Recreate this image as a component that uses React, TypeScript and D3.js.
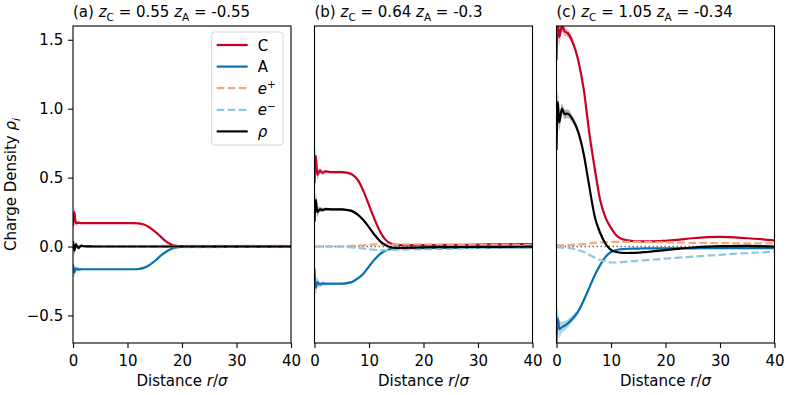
import * as d3 from 'd3';
import React, { useEffect, useRef } from 'react';

// distance grid (r / sigma) shared by every curve
const R = [0, 0.25, 0.5, 1, 1.5, 2, 3, 4, 5, 6, 7, 8, 9, 10, 11, 12, 13, 14, 15, 16, 17, 18, 19, 20, 22, 25, 30, 35, 40];

// panel (a) zC = 0.55, zA = -0.55
const aC = [0.15, 0.25, 0.17, 0.172, 0.17, 0.17, 0.17, 0.17, 0.17, 0.17, 0.17, 0.17, 0.17, 0.17, 0.17, 0.168, 0.16, 0.14, 0.11, 0.075, 0.04, 0.015, 0.005, 0.003, 0.002, 0.002, 0.002, 0.002, 0.002];
const aA = [-0.13, -0.19, -0.16, -0.166, -0.165, -0.165, -0.165, -0.165, -0.165, -0.165, -0.165, -0.165, -0.165, -0.165, -0.165, -0.163, -0.155, -0.135, -0.105, -0.07, -0.04, -0.018, -0.007, -0.003, -0.002, -0.002, -0.002, -0.002, -0.002];
const aEp = [0, 0, 0, 0, 0, 0, 0, 0, 0, 0, 0, 0, 0, 0, 0, 0.001, 0.001, 0.002, 0.003, 0.004, 0.004, 0.005, 0.005, 0.005, 0.005, 0.005, 0.005, 0.005, 0.005];
const aEm = [0, 0, 0, 0, 0, 0, 0, 0, 0, 0, 0, 0, 0, 0, 0, -0.001, -0.001, -0.002, -0.002, -0.003, -0.003, -0.004, -0.004, -0.004, -0.004, -0.004, -0.003, -0.003, -0.003];
const aRho = [0.04, -0.03, 0.015, -0.01, 0.006, 0.002, 0.001, 0, 0, 0, 0, 0, 0, 0, 0, 0, 0, 0, 0, 0, 0, 0, 0, 0, 0, 0, 0, 0, 0];
const aNoise = [0.04, 0.03, 0.02, 0.012, 0.008, 0.006, 0.005, 0.004, 0.004, 0.003, 0.003, 0.003, 0.003, 0.003, 0.003, 0.003, 0.003, 0.003, 0.002, 0.002, 0.002, 0.002, 0.002, 0.002, 0.002, 0.002, 0.002, 0.002, 0.002];

// panel (b) zC = 0.64, zA = -0.3
const bC = [0.46, 0.66, 0.52, 0.55, 0.535, 0.545, 0.54, 0.54, 0.54, 0.535, 0.52, 0.48, 0.4, 0.3, 0.2, 0.11, 0.05, 0.022, 0.013, 0.01, 0.01, 0.01, 0.01, 0.01, 0.011, 0.012, 0.014, 0.016, 0.018];
const bA = [-0.16, -0.3, -0.26, -0.275, -0.268, -0.27, -0.27, -0.27, -0.27, -0.265, -0.255, -0.23, -0.195, -0.145, -0.095, -0.055, -0.03, -0.018, -0.013, -0.012, -0.012, -0.011, -0.011, -0.011, -0.01, -0.01, -0.008, -0.007, -0.006];
const bEp = [0, 0, 0, 0, 0, 0, 0, 0, 0, 0.002, 0.004, 0.007, 0.01, 0.013, 0.015, 0.016, 0.016, 0.016, 0.016, 0.016, 0.016, 0.015, 0.015, 0.015, 0.015, 0.014, 0.013, 0.012, 0.012];
const bEm = [0, 0, 0, 0, 0, 0, 0, 0, 0, -0.003, -0.006, -0.01, -0.015, -0.02, -0.024, -0.026, -0.026, -0.025, -0.024, -0.023, -0.022, -0.021, -0.021, -0.02, -0.018, -0.016, -0.012, -0.009, -0.006];
const bRho = [0.18, 0.34, 0.25, 0.27, 0.265, 0.272, 0.27, 0.27, 0.27, 0.265, 0.255, 0.23, 0.19, 0.14, 0.085, 0.04, 0.01, -0.005, -0.01, -0.01, -0.009, -0.008, -0.007, -0.006, -0.005, -0.004, -0.003, -0.002, -0.001];
const bNoise = [0.06, 0.05, 0.035, 0.02, 0.015, 0.012, 0.01, 0.01, 0.01, 0.009, 0.008, 0.007, 0.006, 0.005, 0.004, 0.004, 0.003, 0.003, 0.003, 0.003, 0.003, 0.003, 0.003, 0.003, 0.003, 0.003, 0.003, 0.003, 0.003];

// panel (c) zC = 1.05, zA = -0.34
const cC = [1.35, 1.63, 1.52, 1.6, 1.56, 1.55, 1.48, 1.35, 1.14, 0.83, 0.57, 0.34, 0.21, 0.135, 0.08, 0.055, 0.045, 0.04, 0.038, 0.037, 0.037, 0.038, 0.04, 0.042, 0.048, 0.06, 0.07, 0.06, 0.045];
const cA = [-0.7, -0.52, -0.6, -0.585, -0.575, -0.56, -0.52, -0.47, -0.39, -0.3, -0.21, -0.135, -0.075, -0.04, -0.025, -0.019, -0.016, -0.015, -0.015, -0.014, -0.014, -0.014, -0.014, -0.014, -0.013, -0.013, -0.012, -0.012, -0.011];
const cEp = [0.008, 0.008, 0.008, 0.009, 0.009, 0.01, 0.012, 0.015, 0.018, 0.022, 0.026, 0.03, 0.032, 0.033, 0.033, 0.033, 0.033, 0.033, 0.033, 0.032, 0.032, 0.031, 0.031, 0.03, 0.029, 0.027, 0.025, 0.023, 0.022];
const cEm = [-0.007, -0.007, -0.007, -0.008, -0.009, -0.01, -0.015, -0.025, -0.04, -0.06, -0.08, -0.098, -0.11, -0.116, -0.116, -0.113, -0.11, -0.106, -0.103, -0.1, -0.097, -0.094, -0.091, -0.088, -0.082, -0.074, -0.06, -0.048, -0.038];
const cRho = [0.7, 1.05, 0.9, 1.0, 0.96, 0.965, 0.92, 0.83, 0.67, 0.44, 0.22, 0.1, 0.02, -0.025, -0.04, -0.046, -0.047, -0.046, -0.044, -0.041, -0.038, -0.034, -0.03, -0.026, -0.018, -0.007, 0.003, 0.004, 0];
const cNoise = [0.1, 0.08, 0.06, 0.04, 0.035, 0.03, 0.025, 0.02, 0.016, 0.013, 0.01, 0.008, 0.007, 0.006, 0.005, 0.004, 0.004, 0.004, 0.003, 0.003, 0.003, 0.003, 0.003, 0.003, 0.003, 0.003, 0.003, 0.003, 0.003];

const panelLetters = ['a', 'b', 'c'];
const zCvals = ['0.55', '0.64', '1.05'];
const zAvals = ['-0.55', '-0.3', '-0.34'];
const xTicks = [0, 10, 20, 30, 40];
const yTicks = [-0.5, 0, 0.5, 1.0, 1.5];

const seriesKeys = ['C', 'A', 'ep', 'em', 'rho'];
const seriesColors = ['#ca0020', '#0571b0', '#f4a582', '#92c5de', '#000000'];
const seriesDashed = [false, false, true, true, false];

const panelData = [
  { C: aC, A: aA, ep: aEp, em: aEm, rho: aRho, noise: aNoise },
  { C: bC, A: bA, ep: bEp, em: bEm, rho: bRho, noise: bNoise },
  { C: cC, A: cA, ep: cEp, em: cEm, rho: cRho, noise: cNoise },
];

type Part = { t: string; it?: boolean; sh?: number };

const FONT = 'DejaVu Sans';
const FS = 15;

// writes mathtext-like label with tspans (italics, sub/superscripts)
function richText(text: any, parts: Part[], fs: number) {
  let cur = 0;
  parts.forEach(p => {
    const sh = p.sh || 0;
    text.append('tspan')
      .attr('dy', sh - cur)
      .style('font-size', `${sh ? fs * 0.7 : fs}px`)
      .style('font-style', p.it ? 'italic' : 'normal')
      .text(p.t);
    cur = sh;
  });
}

export default function App() {
  const ref = useRef<SVGSVGElement>(null);

  useEffect(() => {
    const svg = d3.select(ref.current);
    svg.selectAll('*').remove();

    const top = 26;
    const bottom = 343;
    const plotW = 218;
    const lefts = [73, 314.5, 556.5];

    const y = d3.scaleLinear().domain([-0.7, 1.6]).range([bottom, top]);

    panelData.forEach((pd: any, pi) => {
      const left = lefts[pi];
      const x = d3.scaleLinear().domain([0, 40]).range([left, left + plotW]);
      const g = svg.append('g');

      const clipId = `clip${pi}`;
      svg.append('clipPath').attr('id', clipId)
        .append('rect')
        .attr('x', left).attr('y', top)
        .attr('width', plotW).attr('height', bottom - top);

      const plot = g.append('g').attr('clip-path', `url(#${clipId})`);

      // zero reference line
      plot.append('line')
        .attr('x1', x(0)).attr('x2', x(40))
        .attr('y1', y(0)).attr('y2', y(0))
        .attr('stroke', '#666')
        .attr('stroke-width', 1.5)
        .attr('stroke-dasharray', '1.5,2.5');

      const line = d3.line<number>()
        .x((d, i) => x(R[i]))
        .y(d => y(d))
        .curve(d3.curveMonotoneX);

      const area = d3.area<number>()
        .x((d, i) => x(R[i]))
        .y0((d, i) => y(d - pd.noise[i]))
        .y1((d, i) => y(d + pd.noise[i]))
        .curve(d3.curveMonotoneX);

      seriesKeys.forEach((k, si) => {
        const vals: number[] = pd[k];
        if (!seriesDashed[si]) {
          plot.append('path')
            .attr('d', area(vals))
            .attr('fill', seriesColors[si])
            .attr('opacity', 0.3);
        }
        plot.append('path')
          .attr('d', line(vals))
          .attr('fill', 'none')
          .attr('stroke', seriesColors[si])
          .attr('stroke-width', 2.2)
          .attr('stroke-dasharray', seriesDashed[si] ? '7.7,3.3' : null);
      });

      // frame
      g.append('rect')
        .attr('x', left).attr('y', top)
        .attr('width', plotW).attr('height', bottom - top)
        .attr('fill', 'none')
        .attr('stroke', 'black')
        .attr('stroke-width', 1.1);

      // x axis
      const xAxis = d3.axisBottom(x)
        .tickValues(xTicks)
        .tickSize(4.9)
        .tickSizeOuter(0)
        .tickPadding(4.9)
        .tickFormat(d3.format('d'));

      const xg = g.append('g')
        .attr('transform', `translate(0,${bottom})`)
        .call(xAxis);
      xg.select('.domain').remove();
      xg.selectAll('line').attr('stroke', 'black').attr('stroke-width', 1.1);
      xg.selectAll('text')
        .attr('fill', 'black')
        .style('font-family', FONT)
        .style('font-size', `${FS}px`)
        .attr('y', 9.5)
        .attr('dy', '0.93em');

      // y axis only on first panel
      if (pi === 0) {
        const yAxis = d3.axisLeft(y)
          .tickValues(yTicks)
          .tickSize(4.9)
          .tickSizeOuter(0)
          .tickPadding(4.9)
          .tickFormat(d => d3.format('.1f')(d as number).replace('-', '\u2212'));
        const yg = g.append('g')
          .attr('transform', `translate(${left},0)`)
          .call(yAxis);
        yg.select('.domain').remove();
        yg.selectAll('line').attr('stroke', 'black').attr('stroke-width', 1.1);
        yg.selectAll('text')
          .attr('fill', 'black')
          .style('font-family', FONT)
          .style('font-size', `${FS}px`);

        const yl = g.append('text')
          .attr('text-anchor', 'middle')
          .attr('fill', 'black')
          .style('font-family', FONT)
          .style('white-space', 'pre')
          .attr('transform', `translate(16,${(top + bottom) / 2}) rotate(-90)`);
        richText(yl, [{ t: 'Charge Density ' }, { t: 'ρ', it: true }, { t: 'i', it: true, sh: 3.5 }], FS);
      }

      // x label
      const xl = g.append('text')
        .attr('text-anchor', 'middle')
        .attr('fill', 'black')
        .style('font-family', FONT)
        .style('white-space', 'pre')
        .attr('x', left + plotW / 2)
        .attr('y', 386);
      richText(xl, [{ t: 'Distance ' }, { t: 'r', it: true }, { t: '/' }, { t: 'σ', it: true }], FS);

      // title
      const tl = g.append('text')
        .attr('fill', 'black')
        .style('font-family', FONT)
        .style('white-space', 'pre')
        .attr('x', left)
        .attr('y', 17);
      richText(tl, [
        { t: `(${panelLetters[pi]}) ` },
        { t: 'z', it: true },
        { t: 'C', sh: 3.5 },
        { t: ` = ${zCvals[pi]} ` },
        { t: 'z', it: true },
        { t: 'A', sh: 3.5 },
        { t: ` = ${zAvals[pi]}` },
      ], FS);

      // legend in first panel
      if (pi === 0) {
        const lg = g.append('g');
        const bx = left + plotW - 79.3;
        const by = 32;
        lg.append('rect')
          .attr('x', bx).attr('y', by)
          .attr('width', 71.3).attr('height', 113)
          .attr('rx', 3)
          .attr('fill', 'white')
          .attr('fill-opacity', 0.8)
          .attr('stroke', '#d6d6d6')
          .attr('stroke-width', 1);
        const labels: Part[][] = [
          [{ t: 'C' }],
          [{ t: 'A' }],
          [{ t: 'e', it: true }, { t: '+', sh: -5.5 }],
          [{ t: 'e', it: true }, { t: '\u2212', sh: -5.5 }],
          [{ t: 'ρ', it: true }],
        ];
        seriesKeys.forEach((k, si) => {
          const ly = 45 + si * 21.6;
          lg.append('line')
            .attr('x1', bx + 5).attr('x2', bx + 36)
            .attr('y1', ly).attr('y2', ly)
            .attr('stroke', seriesColors[si])
            .attr('stroke-width', 2.2)
            .attr('stroke-dasharray', seriesDashed[si] ? '7.7,3.3' : null);
          const lt = lg.append('text')
            .attr('fill', 'black')
            .style('font-family', FONT)
            .attr('x', bx + 46)
            .attr('y', ly + 5.5);
          richText(lt, labels[si], FS);
        });
      }
    });
  }, []);

  return (
    <svg ref={ref} width={789} height={395}
      style={{ position: 'absolute', left: 0, top: 0, background: 'white' }} />
  );
}
